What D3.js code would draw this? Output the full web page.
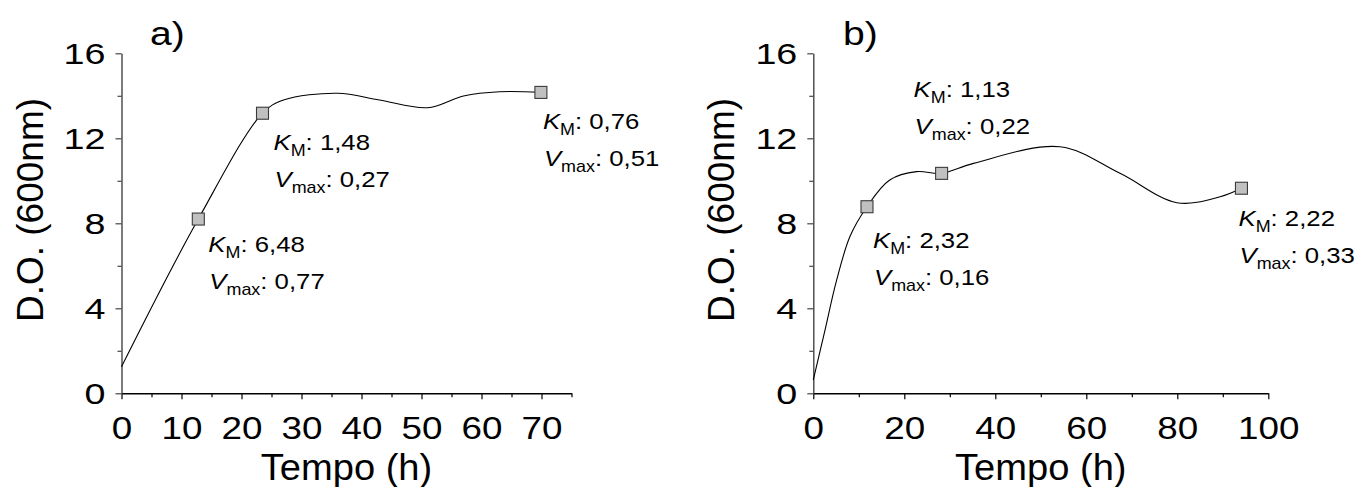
<!DOCTYPE html>
<html>
<head>
<meta charset="utf-8">
<script src="https://d3js.org/d3.v7.min.js"></script>
<style>
  body { margin: 0; background: #fff; }
  text { font-family: "Liberation Sans", Arial, sans-serif; fill: #000; }
</style>
</head>
<body>
<script>
// panel a) data
var tA   = [0, 12.8, 23.5, 27, 36, 43, 51, 57, 63, 69.9];
var odA  = [1.25, 8.2, 13.18, 13.8, 14.12, 13.8, 13.44, 13.99, 14.19, 14.16];
var markA = [1, 2, 9];
var kmA   = ["6,48", "1,48", "0,76"];
var vmaxA = ["0,77", "0,27", "0,51"];

// panel b) data
var tB   = [0, 2.6, 5.1, 8.1, 11.8, 16.8, 22.7, 28.2, 35.2, 54.2, 67.4, 79.9, 89.4, 94.1];
var odB  = [0.63, 3.0, 5.3, 7.4, 8.78, 10.04, 10.43, 10.35, 10.82, 11.6, 10.35, 8.97, 9.25, 9.65];
var markB = [4, 7, 13];
var kmB   = ["2,32", "1,13", "2,22"];
var vmaxB = ["0,16", "0,22", "0,33"];

var yTicks = [0, 4, 8, 12, 16];
var yMinor = [2, 6, 10, 14];
var xTicksA = [0, 10, 20, 30, 40, 50, 60, 70];
var xMinorA = [5, 15, 25, 35, 45, 55, 65, 75];
var xTicksB = [0, 20, 40, 60, 80, 100];
var xMinorB = [10, 30, 50, 70, 90];

var svg = d3.select("body").append("svg")
    .attr("width", 1357)
    .attr("height", 487);

function label(g, x, y, str, size, sx, anchor) {
  return g.append("text")
    .attr("transform", "translate(" + x + "," + y + ") scale(" + sx + ",1)")
    .attr("text-anchor", anchor || "start")
    .style("font-size", size + "px")
    .text(str);
}

function annot(g, x, y, sym, sub, val) {
  var t = g.append("text")
    .attr("transform", "translate(" + x + "," + y + ") scale(1.12,1)")
    .style("font-size", "23px");
  t.append("tspan").style("font-style", "italic").text(sym);
  t.append("tspan").style("font-size", "16px").attr("dy", 6).text(sub);
  t.append("tspan").attr("dy", -6).text(": " + val);
}

function panel(opt) {
  var x = d3.scaleLinear().domain(opt.xDomain).range(opt.xRange);
  var y = d3.scaleLinear().domain([0, 16]).range([393.3, 53.3]);
  var g = svg.append("g");

  // minor ticks
  g.append("g")
      .attr("transform", "translate(0," + y(0) + ")")
      .call(d3.axisBottom(x).tickValues(opt.xMinor).tickSize(4).tickFormat("").tickSizeOuter(0))
      .call(function(s) { s.select(".domain").remove(); s.selectAll("line").attr("stroke", "#000").attr("stroke-width", 1.2); });
  g.append("g")
      .attr("transform", "translate(" + x(0) + ",0)")
      .call(d3.axisLeft(y).tickValues(yMinor).tickSize(4).tickFormat("").tickSizeOuter(0))
      .call(function(s) { s.select(".domain").remove(); s.selectAll("line").attr("stroke", "#444").attr("stroke-width", 1.2); });

  // major axes
  var xa = g.append("g")
      .attr("transform", "translate(0," + y(0) + ")")
      .call(d3.axisBottom(x).tickValues(opt.xTicks).tickSize(6).tickSizeOuter(0).tickPadding(17));
  xa.select(".domain").attr("stroke", "#000").attr("stroke-width", 1.4);
  xa.selectAll("line").attr("stroke", "#000").attr("stroke-width", 1.2);
  xa.selectAll("text")
      .style("font-size", "32px")
      .attr("dy", "0.71em")
      .attr("transform", "scale(1.15,1)");

  var ya = g.append("g")
      .attr("transform", "translate(" + x(0) + ",0)")
      .call(d3.axisLeft(y).tickValues(yTicks).tickSize(6).tickSizeOuter(0));
  ya.select(".domain").attr("stroke", "#444").attr("stroke-width", 1.4);
  ya.selectAll("line").attr("stroke", "#444").attr("stroke-width", 1.2);
  ya.selectAll("text")
      .style("font-size", "29px")
      .attr("x", -16 / 1.3)
      .attr("dy", "0.36em")
      .attr("transform", "scale(1.3,1)");

  // axis titles
  label(g, (opt.xRange[0] + opt.xRange[1]) / 2, 480, "Tempo (h)", 37, 1.03, "middle");
  g.append("text")
      .attr("transform", "translate(" + (x(0) - 79) + "," + 210 + ") rotate(-90)")
      .attr("text-anchor", "middle")
      .style("font-size", "37px")
      .text("D.O. (600nm)");

  // panel letter
  label(g, opt.letterX, 45, opt.letter, 34, 1.15, "start");

  // curve
  var pts = opt.t.map(function(d, i) { return [d, opt.od[i]]; });
  var line = d3.line()
      .x(function(d) { return x(d[0]); })
      .y(function(d) { return y(d[1]); })
      .curve(d3.curveCatmullRom.alpha(0.5));
  g.append("path")
      .datum(pts)
      .attr("fill", "none")
      .attr("stroke", "#000")
      .attr("stroke-width", 1.1)
      .attr("d", line);

  // markers
  g.selectAll(".mk")
    .data(opt.marks)
    .enter().append("rect")
      .attr("class", "mk")
      .attr("x", function(i) { return x(opt.t[i]) - 6; })
      .attr("y", function(i) { return y(opt.od[i]) - 6; })
      .attr("width", 12)
      .attr("height", 12)
      .attr("fill", "#c0c0c0")
      .attr("stroke", "#3a3a3a")
      .attr("stroke-width", 1.1);

  // annotations
  opt.marks.forEach(function(i, k) {
    var px = x(opt.t[i]) + opt.off[k][0];
    var py = y(opt.od[i]) + opt.off[k][1];
    annot(g, px, py, "K", "M", opt.km[k]);
    annot(g, px + 1, py + 37, "V", "max", opt.vmax[k]);
  });
}

panel({
  xDomain: [0, 75], xRange: [121.5, 571.5],
  xTicks: xTicksA, xMinor: xMinorA,
  t: tA, od: odA, marks: markA, km: kmA, vmax: vmaxA,
  off: [[10, 33], [11, 37], [2, 37]],
  letter: "a)", letterX: 150
});

panel({
  xDomain: [0, 100], xRange: [813.3, 1268.3],
  xTicks: xTicksB, xMinor: xMinorB,
  t: tB, od: odB, marks: markB, km: kmB, vmax: vmaxB,
  off: [[6, 41], [-28, -76], [-3, 38]],
  letter: "b)", letterX: 843
});
</script>
</body>
</html>
